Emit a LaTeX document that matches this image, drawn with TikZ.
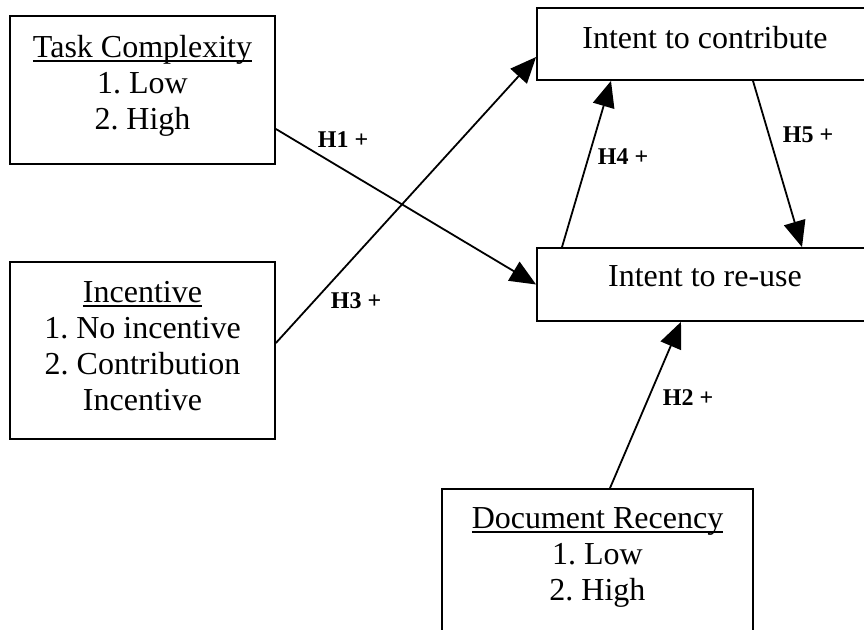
\documentclass[tikz,border=0pt]{standalone}
\usepackage{fontspec}
\setmainfont{Liberation Serif}
\usetikzlibrary{arrows.meta}
\frenchspacing
\newcommand\myul[1]{\setbox0\hbox{#1}\rlap{\rule[-2.2pt]{\wd0}{0.9pt}}\box0}
\tikzset{
  box/.style={draw, line width=0.9pt, inner sep=0pt, minimum width=#1},
  txt/.style={inner sep=0pt, align=center, font=\fontsize{16}{18}\selectfont\frenchspacing},
  hyp/.style={inner sep=0pt, font=\fontsize{12}{14}\selectfont\bfseries},
  conn/.style={line width=0.9pt, -{Triangle[length=13pt, width=11pt]}}
}
\begin{document}
\begin{tikzpicture}[x=0.5pt, y=-0.5pt]
\path[use as bounding box, clip] (0,0) rectangle (864,630);
% boxes
\node[box=132.5pt, minimum height=74pt] (tc) at (142.5,90) {};
\node[box=132.5pt, minimum height=88.5pt] (inc) at (142.5,350.5) {};
\node[box=168pt, minimum height=36pt] (ic) at (705,44) {};
\node[box=168pt, minimum height=36.5pt] (ir) at (705,284.5) {};
\node[box=155.5pt, minimum height=74pt] (dr) at (597.5,563) {};
% texts
\node[txt, anchor=north] (tct) at ([yshift=-10pt]tc.north) {\myul{Task Complexity}\\1. Low\\2. High};
\node[txt, anchor=north] (inct) at ([yshift=-10pt]inc.north) {\myul{Incentive}\\1. No incentive\\2. Contribution\\Incentive};
\node[txt, anchor=base] (ict) at ([yshift=-20.5pt]ic.north) {Intent to contribute};
\node[txt, anchor=base] (irt) at ([yshift=-19.5pt]ir.north) {Intent to re-use};
\node[txt, anchor=north] (drt) at ([yshift=-9.5pt]dr.north) {\myul{Document Recency}\\1. Low\\2. High};
% connectors
\draw[conn] ([yshift=-19.5pt]tc.east) -- (ir.west);
\draw[conn] ([yshift=3.75pt]inc.east) -- ([yshift=-6.5pt]ic.west);
\draw[conn] ([xshift=-71.5pt]ir.north) -- ([xshift=-47pt]ic.south);
\draw[conn] ([xshift=24pt]ic.south) -- ([xshift=48.5pt]ir.north);
\draw[conn] ([xshift=6.25pt]dr.north) -- ([xshift=-12pt]ir.south);
% labels
\node[hyp] (h1) at (343,140) {H1 +};
\node[hyp] (h3) at (356,301) {H3 +};
\node[hyp] (h4) at (623,157) {H4 +};
\node[hyp] (h5) at (808,134.5) {H5 +};
\node[hyp] (h2) at (688,397.5) {H2 +};
\end{tikzpicture}
\end{document}
